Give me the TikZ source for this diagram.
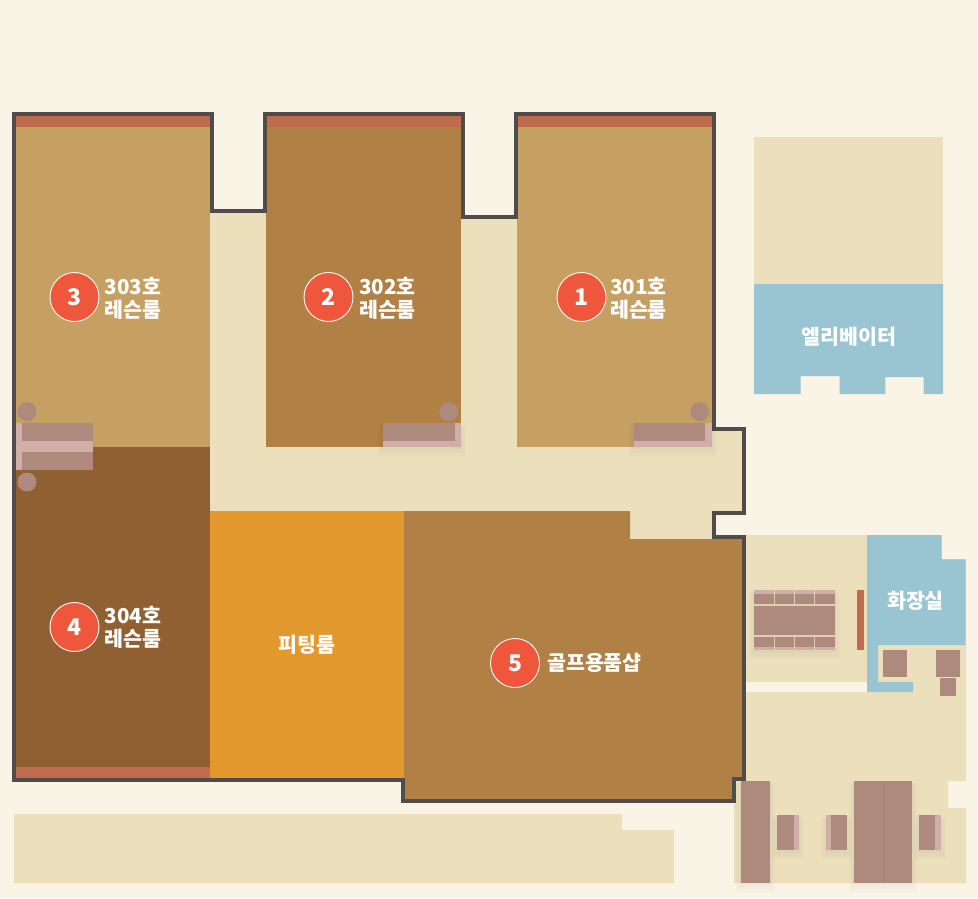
\documentclass[tikz,border=0pt]{standalone}
\usepackage{fontspec}
\newfontfamily\krfont{Noto Sans CJK KR}
\definecolor{bgc}{HTML}{FAF4E6}
\definecolor{wallc}{HTML}{4F4C4A}
\definecolor{lightroom}{HTML}{C69F63}
\definecolor{midroom}{HTML}{B08045}
\definecolor{darkroom}{HTML}{916032}
\definecolor{orangeroom}{HTML}{E2982C}
\definecolor{floorc}{HTML}{ECDFBC}
\definecolor{bluec}{HTML}{98C5D1}
\definecolor{stripec}{HTML}{BF6B4E}
\definecolor{furn}{HTML}{AE8A7E}
\definecolor{furnlight}{HTML}{D0AFA9}
\definecolor{badgec}{HTML}{EE573B}
\tikzset{
  area/.style={fill=#1,draw=none},
  shade1/.style={fill=black,opacity=.014,draw=none},
  badge/.style={circle,fill=badgec,draw=white,line width=.9pt,minimum size=49pt,inner sep=0pt,text=white,font=\krfont\bfseries\fontsize{23}{23}\selectfont},
  roomlabel/.style={text=white,align=center,inner sep=0pt,font=\krfont\bfseries\fontsize{20.6}{24}\selectfont},
  knob/.style={circle,fill=furn,draw=none,minimum size=19pt,inner sep=0pt},
  wall/.style={draw=wallc,line width=4pt,line join=miter}
}
\newcommand{\softshadow}[4]{%
  \fill[shade1] (#1-1,#2+1) rectangle (#3+1,#4+3);
  \fill[shade1] (#1-3,#2+2) rectangle (#3+3,#4+6);
  \fill[shade1] (#1-5,#2+2) rectangle (#3+5,#4+9);
}
\begin{document}
\begin{tikzpicture}[x=1pt,y=-1pt]
\useasboundingbox (0,0) rectangle (978,898);
\fill[bgc] (0,0) rectangle (978,898);
% floors
\fill[area=floorc] (210,213) -- (266,213) -- (266,447) -- (461,447) -- (461,219) -- (517,219) -- (517,447) -- (712,447) -- (712,431) -- (742,431) -- (742,511) -- (712,511) -- (712,539) -- (630,539) -- (630,511) -- (210,511) -- cycle;
\fill[area=floorc] (754,137) rectangle (943,284);
\fill[area=floorc] (14,814) -- (622,814) -- (622,830) -- (674,830) -- (674,883) -- (14,883) -- cycle;
\fill[area=floorc] (745,535) -- (966,535) -- (966,781) -- (948,781) -- (948,808) -- (966,808) -- (966,883) -- (734,883) -- (734,781) -- (745,781) -- cycle;
\fill[area=bgc] (942,535) rectangle (967,559);
% rooms
\fill[area=lightroom] (15,116) rectangle (210,447);
\fill[area=midroom] (266,116) rectangle (461,447);
\fill[area=lightroom] (517,116) rectangle (712,447);
\fill[area=darkroom] (15,447) rectangle (210,778);
\fill[area=orangeroom] (210,511) rectangle (404,778);
\fill[area=midroom] (404,511) -- (630,511) -- (630,539) -- (742,539) -- (742,777) -- (732,777) -- (732,799) -- (404,799) -- cycle;
\foreach \a/\b in {15/210,266/461,517/712}{\fill[area=stripec] (\a,116) rectangle (\b,127);}
\fill[area=stripec] (15,767) rectangle (210,778);
% blue areas
\fill[area=bluec] (754,284) -- (943,284) -- (943,394) -- (923.7,394) -- (923.7,377) -- (885.3,377) -- (885.3,394) -- (839.7,394) -- (839.7,376) -- (800.7,376) -- (800.7,394) -- (754,394) -- cycle;
\fill[area=bluec] (867,535) -- (941.5,535) -- (941.5,559.3) -- (965.7,559.3) -- (965.7,645) -- (878,645) -- (878,682) -- (913,682) -- (913,692) -- (867,692) -- cycle;
\fill[area=bgc] (745,682) rectangle (867,692);
% walls
\draw[wall] (13.8,114) -- (211.8,114) -- (211.8,211) -- (264.8,211) -- (264.8,114) -- (463.3,114) -- (463.3,217) -- (515.8,217) -- (515.8,114) -- (714,114) -- (714,429) -- (743.7,429) -- (743.7,513) -- (713.9,513) -- (713.9,537) -- (743.7,537) -- (743.7,778.7) -- (734.2,778.7) -- (734.2,801) -- (402.7,801) -- (402.7,780) -- (13.8,780) -- cycle;
% doors room 3/4
\fill[area=furn] (15.7,423.3) rectangle (93.3,470);
\fill[area=furnlight] (15.7,423.3) rectangle (21.7,470);
\fill[area=furnlight] (15.7,441) rectangle (93.3,452);
\node[knob] (k3) at (27,411.5) {};
\node[knob] (k4) at (27,482) {};
% doors room 2 and 1
\softshadow{382.7}{423.3}{460.7}{446.7}
\fill[area=furnlight] (382.7,423.3) rectangle (460.7,446.7);
\fill[area=furn] (382.7,423.3) rectangle (454.7,441);
\node[knob] (k2) at (448.7,411.7) {};
\softshadow{633.7}{423.3}{712}{446.7}
\fill[area=furnlight] (633.7,423.3) rectangle (712,446.7);
\fill[area=furn] (633.7,423.3) rectangle (705.3,441);
\node[knob] (k1) at (699.7,411.7) {};
% table
\softshadow{754}{590}{835}{650}
\fill[area=furnlight] (754,590) rectangle (835,650);
\fill[area=furn] (754,593.5) rectangle (835,647);
\fill[area=floorc!80!furn] (754,604) rectangle (835,605.5);
\fill[area=floorc!80!furn] (754,635) rectangle (835,636.5);
\foreach \x in {774,794.5,814.5}{
  \fill[area=floorc!80!furn] (\x-.5,590) rectangle (\x+.5,604);
  \fill[area=floorc!80!furn] (\x-.5,636.5) rectangle (\x+.5,650);
}
\fill[area=stripec] (857,590) rectangle (864,650);
\fill[area=furn] (883,649.7) rectangle (906.7,677);
\fill[area=furn] (936,649.7) rectangle (960,677);
\fill[area=furn] (940,678) rectangle (956,696);
% lower right furniture
\softshadow{741.3}{781}{770}{883}
\fill[area=furn] (741.3,781) rectangle (770,883);
\softshadow{777}{815}{798.7}{849.5}
\fill[area=furn] (777,815) rectangle (793.7,849.5);
\fill[area=furnlight] (793.7,815) rectangle (798.7,849.5);
\softshadow{825.7}{815}{847}{849.5}
\fill[area=furnlight] (825.7,815) rectangle (830.7,849.5);
\fill[area=furn] (830.7,815) rectangle (847,849.5);
\softshadow{854.3}{781}{912}{883}
\fill[area=furn] (854.3,781) rectangle (912,883);
\fill[area=furn!92!black] (882.6,781) rectangle (883.6,883);
\softshadow{919.3}{815}{940.7}{849.5}
\fill[area=furn] (919.3,815) rectangle (935.3,849.5);
\fill[area=furnlight] (935.3,815) rectangle (940.7,849.5);
% badges and labels
\node[badge] (b3) at (74.5,297) {3};
\node[roomlabel] (t3) at (133,298.5) {303호\\[-.5pt]레슨룸};
\node[badge] (b2) at (328.5,297) {2};
\node[roomlabel] (t2) at (387.5,298.5) {302호\\[-.5pt]레슨룸};
\node[badge] (b1) at (581.5,297) {1};
\node[roomlabel] (t1) at (638.5,298.5) {301호\\[-.5pt]레슨룸};
\node[badge] (b4) at (74.5,627) {4};
\node[roomlabel] (t4) at (133,627.5) {304호\\[-.5pt]레슨룸};
\node[badge] (b5) at (515,663) {5};
\node[roomlabel] (t5) at (594.5,662.8) {골프용품샵};
\node[roomlabel] (t6) at (307,644.8) {피팅룸};
\node[roomlabel] (t7) at (915.5,600.8) {화장실};
\node[roomlabel] (t8) at (849,336.8) {엘리베이터};
\end{tikzpicture}
\end{document}
